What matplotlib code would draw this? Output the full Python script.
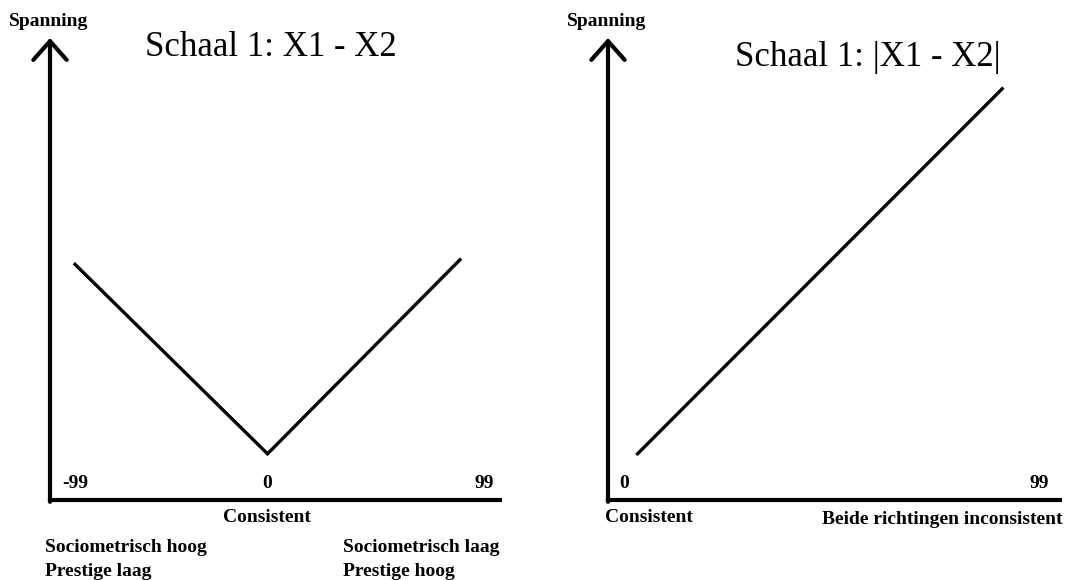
#!/usr/bin/env python3
"""Two schematic 'Spanning' curves for Schaal 1 (signed vs absolute difference)."""

import matplotlib.pyplot as plt

# -------------------------------------------------------------------
# Data
# -------------------------------------------------------------------
left_x = [-99, 0, 99]
left_spanning = [51, 10, 52]
left_ticks = ["-99", "0", "99"]
left_title = "Schaal 1: X1 - X2"

right_x = [3, 90]
right_spanning = [10, 89]
right_ticks = ["0", "99"]
right_title = "Schaal 1: |X1 - X2|"

W, H = 1066, 580
SERIF = ["Liberation Serif", "DejaVu Serif"]


def px(x, y):
    """Pixel position (top-left origin) to figure fraction."""
    return x / W, 1 - y / H


def add_axes_px(fig, x0, x1, y_top, y_bottom):
    l, b = px(x0, y_bottom)
    return fig.add_axes([l, b, (x1 - x0) / W, (y_bottom - y_top) / H])


def draw_frame(ax):
    """Bare arrow y-axis plus plain x-axis, no ticks."""
    for s in ax.spines.values():
        s.set_visible(False)
    ax.set_xticks([])
    ax.set_yticks([])
    ax.patch.set_alpha(0)
    ax.plot([0, 1], [0, 0], transform=ax.transAxes, color="black", lw=3,
            solid_capstyle="projecting", clip_on=False)
    ax.annotate("", xy=(0, 1), xytext=(0, -0.004), xycoords="axes fraction",
                arrowprops=dict(arrowstyle="->,head_length=0.45,head_width=0.4",
                                lw=3, color="black", shrinkA=0, shrinkB=0,
                                mutation_scale=30),
                annotation_clip=False)


def bold(fig, x, y, s, ha="left"):
    fig.text(*px(x, y), s, ha=ha, va="center", fontsize=14,
             fontweight="bold", family=SERIF)


fig = plt.figure(figsize=(W / 100, H / 100), dpi=100)

# ---------------- left panel ----------------
ax1 = add_axes_px(fig, 50, 500, 38, 500)
ax1.set_xlim(-111.9, 119.6)
ax1.set_ylim(0, 100)
draw_frame(ax1)
ax1.plot(left_x, left_spanning, color="black", lw=2.4, solid_joinstyle="miter")
tick_y = 483
bold(fig, 62, tick_y, left_ticks[0])
bold(fig, ax1.transData.transform((0, 0))[0], tick_y, left_ticks[1], ha="center")
bold(fig, 494, tick_y, left_ticks[2], ha="right")
fig.text(*px(271, 48), left_title, ha="center", va="center", fontsize=25,
         family=SERIF)
bold(fig, 9, 21, "Spanning")
bold(fig, 267, 518, "Consistent", ha="center")
bold(fig, 45, 548, "Sociometrisch hoog")
bold(fig, 45, 571, "Prestige laag")
bold(fig, 343, 548, "Sociometrisch laag")
bold(fig, 343, 571, "Prestige hoog")

# ---------------- right panel ----------------
ax2 = add_axes_px(fig, 608, 1060, 38, 500)
ax2.set_xlim(-4.05, 103.8)
ax2.set_ylim(0, 100)
draw_frame(ax2)
ax2.plot(right_x, right_spanning, color="black", lw=2.4)
bold(fig, 619, tick_y, right_ticks[0])
bold(fig, 1049, tick_y, right_ticks[1], ha="right")
fig.text(*px(868, 58), right_title, ha="center", va="center", fontsize=25,
         family=SERIF)
bold(fig, 567, 21, "Spanning")
bold(fig, 605, 518, "Consistent")
bold(fig, 1062, 519, "Beide richtingen inconsistent", ha="right")

fig.savefig("out.png", dpi=100)
